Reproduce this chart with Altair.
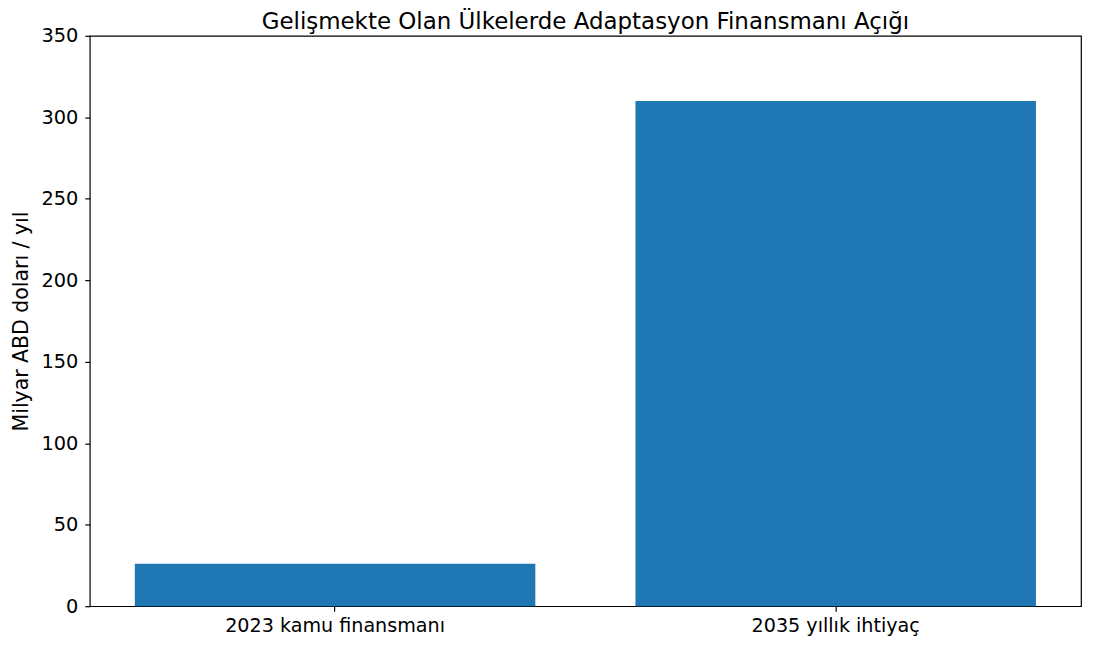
import altair as alt
import pandas as pd

categories = ["2023 kamu finansmanı", "2035 yıllık ihtiyaç"]
values = [26, 310]
y_ticks = [0, 50, 100, 150, 200, 250, 300, 350]

df = pd.DataFrame({"kategori": categories, "deger": values})

font = "DejaVu Sans"

chart = alt.Chart(df).mark_bar(color="#1f77b4").encode(
    x=alt.X("kategori:N", sort=categories, title=None,
            scale=alt.Scale(paddingInner=0.2, paddingOuter=0.09),
            axis=alt.Axis(labelAngle=0, labelFontSize=19.2, labelFont=font, labelColor="black",
                          tickColor="black", tickSize=5, tickWidth=1.2, domain=False,
                          labelPadding=5, labelLimit=600)),
    y=alt.Y("deger:Q", title="Milyar ABD doları / yıl",
            scale=alt.Scale(domain=[0, 350], nice=False),
            axis=alt.Axis(values=y_ticks, grid=False, labelFontSize=19.4, labelFont=font,
                          labelColor="black", tickColor="black", tickSize=5, tickWidth=1.2,
                          domain=False, titleFontSize=20.5, titleFont=font, titleFontWeight="normal",
                          titleColor="black", labelPadding=7, titlePadding=9)),
).properties(
    width=994,
    height=572,
    title=alt.TitleParams("Gelişmekte Olan Ülkelerde Adaptasyon Finansmanı Açığı",
                          fontSize=23, font=font, fontWeight="normal", color="black", offset=-8),
    autosize=alt.AutoSizeParams(type="none"),
    padding={"left": 82, "top": 27, "right": 5, "bottom": 37},
).configure_view(stroke="black", strokeWidth=1.2)

chart.save("out.html", embed_options={"renderer": "svg", "actions": False})
